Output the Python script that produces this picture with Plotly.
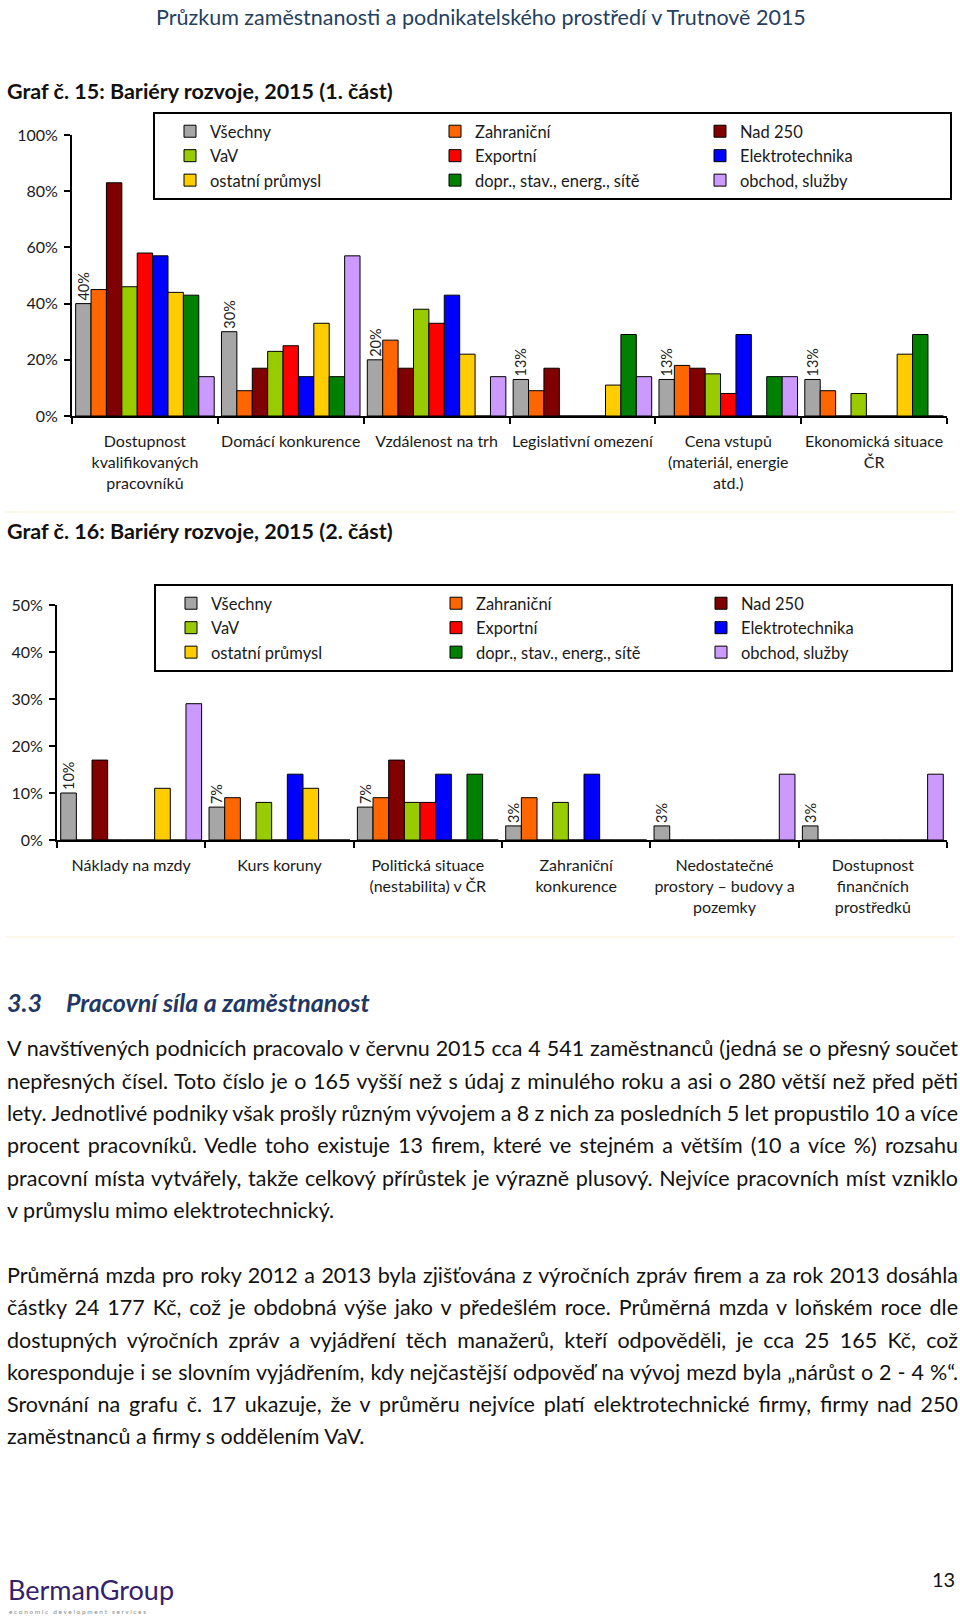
import plotly.graph_objects as go

W, H = 960, 1621
FONT = "Lato, 'Open Sans', sans-serif"

# ---------------- data ----------------
series_names = ["Všechny", "Zahraniční", "Nad 250", "VaV", "Exportní", "Elektrotechnika",
                "ostatní průmysl", "dopr., stav., energ., sítě", "obchod, služby"]
series_colors = ["#A6A6A6", "#FF6600", "#800000", "#99CC00", "#FF0000", "#0000FF",
                 "#FFCC00", "#008000", "#CC99FF"]

g15_categories = ["Dostupnost<br>kvalifikovaných<br>pracovníků", "Domácí konkurence",
                  "Vzdálenost na trh", "Legislativní omezení",
                  "Cena vstupů<br>(materiál, energie<br>atd.)", "Ekonomická situace<br>ČR"]
g15_vsechny = [40, 30, 20, 13, 13, 13]
g15_zahranicni = [45, 9, 27, 9, 18, 9]
g15_nad250 = [83, 17, 17, 17, 17, 0]
g15_vav = [46, 23, 38, 0, 15, 8]
g15_exportni = [58, 25, 33, 0, 8, 0]
g15_elektro = [57, 14, 43, 0, 29, 0]
g15_ostatni = [44, 33, 22, 11, 0, 22]
g15_dopr = [43, 14, 0, 29, 14, 29]
g15_obchod = [14, 57, 14, 14, 14, 0]

g16_categories = ["Náklady na mzdy", "Kurs koruny", "Politická situace<br>(nestabilita) v ČR",
                  "Zahraniční<br>konkurence", "Nedostatečné<br>prostory – budovy a<br>pozemky",
                  "Dostupnost<br>finančních<br>prostředků"]
g16_vsechny = [10, 7, 7, 3, 3, 3]
g16_zahranicni = [0, 9, 9, 9, 0, 0]
g16_nad250 = [17, 0, 17, 0, 0, 0]
g16_vav = [0, 8, 8, 8, 0, 0]
g16_exportni = [0, 0, 8, 0, 0, 0]
g16_elektro = [0, 14, 14, 14, 0, 0]
g16_ostatni = [11, 11, 0, 0, 0, 0]
g16_dopr = [0, 0, 14, 0, 0, 0]
g16_obchod = [29, 0, 0, 0, 14, 14]

g15_series = [g15_vsechny, g15_zahranicni, g15_nad250, g15_vav, g15_exportni,
              g15_elektro, g15_ostatni, g15_dopr, g15_obchod]
g16_series = [g16_vsechny, g16_zahranicni, g16_nad250, g16_vav, g16_exportni,
              g16_elektro, g16_ostatni, g16_dopr, g16_obchod]

header_text = "Průzkum zaměstnanosti a podnikatelského prostředí v Trutnově 2015"
g15_title = "Graf č. 15: Bariéry rozvoje, 2015 (1. část)"
g16_title = "Graf č. 16: Bariéry rozvoje, 2015 (2. část)"
section_no = "3.3"
section_title = "Pracovní síla a zaměstnanost"
para1 = [
    "V navštívených podnicích pracovalo v červnu 2015 cca 4 541 zaměstnanců (jedná se o přesný součet",
    "nepřesných čísel. Toto číslo je o 165 vyšší než s údaj z minulého roku a asi o 280 větší než před pěti",
    "lety. Jednotlivé podniky však prošly různým vývojem a 8 z nich za posledních 5 let propustilo 10 a více",
    "procent pracovníků. Vedle toho existuje 13 firem, které ve stejném a větším (10 a více %) rozsahu",
    "pracovní místa vytvářely, takže celkový přírůstek je výrazně plusový. Nejvíce pracovních míst vzniklo",
    "v průmyslu mimo elektrotechnický.",
]
para2 = [
    "Průměrná mzda pro roky 2012 a 2013 byla zjišťována z výročních zpráv firem a za rok 2013 dosáhla",
    "částky 24 177 Kč, což je obdobná výše jako v předešlém roce. Průměrná mzda v loňském roce dle",
    "dostupných výročních zpráv a vyjádření těch manažerů, kteří odpověděli, je cca 25 165 Kč, což",
    "koresponduje i se slovním vyjádřením, kdy nejčastější odpověď na vývoj mezd byla „nárůst o 2 - 4 %“.",
    "Srovnání na grafu č. 17 ukazuje, že v průměru nejvíce platí elektrotechnické firmy, firmy nad 250",
    "zaměstnanců a firmy s oddělením VaV.",
]


def px(x):
    return x / W


def py(y):
    return 1 - y / H


fig = go.Figure()

for i, name in enumerate(series_names):
    vals = g15_series[i]
    fig.add_trace(go.Bar(
        x=g15_categories, y=vals, name=name, legend="legend",
        marker=dict(color=series_colors[i], line=dict(color="black", width=1)),
        text=[f"{v}%" for v in vals] if i == 0 else None,
        textposition="outside" if i == 0 else None,
        textangle=-90, constraintext="none", cliponaxis=False,
        textfont=dict(family=FONT, size=14.5, color="#222222"),
        xaxis="x", yaxis="y",
    ))
for i, name in enumerate(series_names):
    vals = g16_series[i]
    fig.add_trace(go.Bar(
        x=g16_categories, y=vals, name=name, legend="legend2",
        marker=dict(color=series_colors[i], line=dict(color="black", width=1)),
        text=[f"{v}%" for v in vals] if i == 0 else None,
        textposition="outside" if i == 0 else None,
        textangle=-90, constraintext="none", cliponaxis=False,
        textfont=dict(family=FONT, size=14.5, color="#222222"),
        xaxis="x2", yaxis="y2",
    ))

axis_common = dict(showline=True, linecolor="black", linewidth=2, ticks="outside",
                   tickcolor="black", tickwidth=2, ticklen=6, showgrid=False, zeroline=False,
                   fixedrange=True)
ytick_font = dict(family=FONT, size=16, color="#1a1a1a")
xaxis_extra = dict(type="category", tickson="boundaries", tickangle=0, ticklabelstandoff=10,
                   tickfont=dict(family=FONT, size=16, color="#1a1a1a"))

legend_common = dict(orientation="h", xanchor="left", yanchor="top", entrywidth=205,
                     entrywidthmode="pixels", indentation=15, bordercolor="black", borderwidth=2,
                     bgcolor="white", font=dict(family=FONT, size=16.5, color="#1a1a1a"),
                     traceorder="normal", itemclick=False, itemdoubleclick=False)

shapes = [
    dict(type="line", xref="paper", yref="paper", x0=px(5), x1=px(955), y0=py(512), y1=py(512),
         line=dict(color="#FBF8EA", width=2)),
    dict(type="line", xref="paper", yref="paper", x0=px(5), x1=px(955), y0=py(937), y1=py(937),
         line=dict(color="#FBF8EA", width=2)),
]

annotations = []


def add_text(text, x, y, size, color="#111111", bold=False, italic=False, family=FONT,
             xanchor="left"):
    annotations.append(dict(
        text=text, x=px(x), y=py(y), xref="paper", yref="paper", xanchor=xanchor,
        yanchor="middle", showarrow=False, align="left",
        font=dict(family=family, size=size, color=color,
                  weight="bold" if bold else "normal", style="italic" if italic else "normal"),
    ))


add_text(header_text, 481, 17, 21.5, color="#243F60", xanchor="center")
add_text(g15_title, 5, 91, 21.5, bold=True)
add_text(g16_title, 5, 531, 21.5, bold=True)
add_text(section_no, 5, 1002, 25, color="#1F3864", bold=True, italic=True)
add_text(section_title, 64, 1002, 25, color="#1F3864", bold=True, italic=True)

justify_idx = []
p1_y = [1048, 1081, 1113, 1145, 1178, 1210]
for k, line in enumerate(para1):
    if k < len(para1) - 1:
        justify_idx.append(len(annotations))
    add_text(line, 5, p1_y[k], 21.5)
p2_y = [1275, 1307, 1340, 1372, 1404, 1436]
for k, line in enumerate(para2):
    if k < len(para2) - 1:
        justify_idx.append(len(annotations))
    add_text(line, 5, p2_y[k], 21.5)

add_text("BermanGroup", 6, 1589, 27, color="#35206B")
add_text("e c o n o m i c   d e v e l o p m e n t   s e r v i c e s", 7, 1611, 6.5, color="#8A8A8A")
add_text("13", 957, 1579, 20, color="#111111", xanchor="right")

fig.update_layout(
    width=W, height=H, autosize=False,
    margin=dict(l=0, r=0, t=0, b=0, pad=0, autoexpand=False),
    paper_bgcolor="white", plot_bgcolor="white",
    barmode="group", bargap=0.05, bargroupgap=0,
    font=dict(family=FONT, color="#1a1a1a"),
    xaxis=dict(domain=[px(72), px(947)], anchor="y", **xaxis_extra, **axis_common),
    yaxis=dict(domain=[py(416), py(135)], anchor="x", range=[0, 100], dtick=20, ticksuffix="%",
               ticklabelstandoff=3, tickfont=ytick_font, **axis_common),
    xaxis2=dict(domain=[px(57), px(947)], anchor="y2", **xaxis_extra, **axis_common),
    yaxis2=dict(domain=[py(840), py(605)], anchor="x2", range=[0, 50], dtick=10, ticksuffix="%",
                ticklabelstandoff=3, tickfont=ytick_font, **axis_common),
    legend=dict(x=px(153), y=py(112), **legend_common),
    legend2=dict(x=px(154), y=py(584), **legend_common),
    shapes=shapes,
    annotations=annotations,
    showlegend=True,
)

target = 951
post = """
(function(){
  var gd = document.getElementById('{plot_id}');
  var idx = %s;
  idx.forEach(function(i){
    var g = gd.querySelector('g.annotation[data-index="' + i + '"]');
    if(!g) return;
    var t = g.querySelector('text.annotation-text');
    if(!t) return;
    var w = t.getComputedTextLength();
    var n = (t.textContent.match(/ /g) || []).length;
    if(n > 0) { t.style.wordSpacing = ((%d - w) / n) + 'px'; }
  });
})();
""" % (str(justify_idx), target)

fig.write_html("out.html", config={"displayModeBar": False, "staticPlot": True},
               post_script=["document.body.style.margin='0';", post])
